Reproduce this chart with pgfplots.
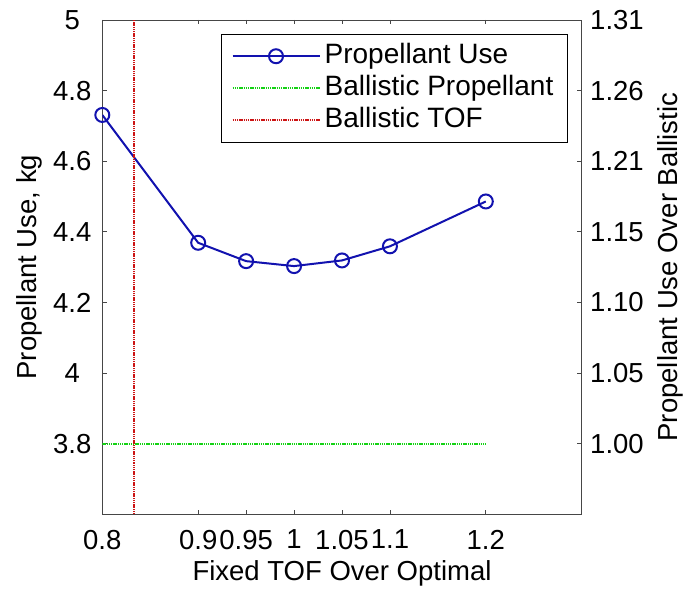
\documentclass[border=0pt]{standalone}
\usepackage{fontspec}
\setmainfont{Liberation Sans}
\usepackage{pgfplots}
\pgfplotsset{compat=1.18}

\definecolor{useblue}{RGB}{18,18,175}
\definecolor{balgreen}{RGB}{20,210,20}
\definecolor{balred}{RGB}{205,20,20}
\definecolor{axisgray}{RGB}{70,70,70}

\pgfplotstableread{
tof   prop
0.80  4.731
0.90  4.369
0.95  4.317
1.00  4.303
1.05  4.319
1.10  4.359
1.20  4.486
}\propuse

\pgfplotsset{
  common/.style={
    scale only axis,
    width=479.4pt, height=494.3pt,
    xmin=0.8, xmax=1.3, ymin=3.6, ymax=5,
    tick align=inside,
    major tick length=4.5pt,
    axis line style={axisgray, line width=0.8pt},
    every tick/.style={axisgray, line width=0.8pt},
    /pgf/number format/assume math mode=true,
    ytick={3.8,4,4.2,4.4,4.6,4.8,5},
  },
}

\begin{document}
\begin{tikzpicture}[font=\fontsize{27.5}{33}\selectfont]
\begin{axis}[
  common,
  xtick={0.8,0.9,0.95,1,1.05,1.1,1.2},
  xticklabels={0.8,0.9,0.95,1,1.05,1.1,1.2},
  xtick pos=both,
  ytick pos=left,
  yticklabels={3.8,4,4.2,4.4,4.6,4.8,5},
  xticklabel style={yshift=-12pt},
  yticklabel style={anchor=center, xshift=-30pt},
  xlabel={Fixed TOF Over Optimal},
  ylabel={Propellant Use, kg},
  xlabel style={at={(axis description cs:0.5,0)}, anchor=center, yshift=-59pt},
  ylabel style={at={(axis description cs:-0.1520,0.5)}, anchor=center},
  legend style={
    at={(rel axis cs:0.971,0.972)}, anchor=north east,
    draw=black, line width=0.8pt, fill=white,
    font=\fontsize{28}{33}\selectfont,
    inner xsep=10pt, inner ysep=6pt,
    row sep=0pt,
    nodes={inner xsep=4pt, inner ysep=3pt, text height=20pt, text depth=6pt},
  },
  legend cell align=left,
  legend image code/.code={
    \draw[mark repeat=2, mark phase=2]
      plot coordinates {(0pt,0pt) (43.5pt,0pt) (87pt,0pt)};
  },
]
\addplot[useblue, line width=2pt, mark=o,
  mark size=7pt, mark options={line width=2pt}]
  table[x=tof, y=prop] {\propuse};
\addlegendentry{Propellant Use}

\addplot[balgreen, line width=2.2pt, dash pattern=on 1.4pt off 0.8pt]
  coordinates {(0.8,3.8) (1.2,3.8)};
\addlegendentry{Ballistic Propellant}

\addplot[balred, line width=2.2pt, dash pattern=on 1.4pt off 0.8pt]
  coordinates {(0.8334,3.6) (0.8334,5)};
\addlegendentry{Ballistic TOF}
\end{axis}

\begin{axis}[
  common,
  axis x line=none,
  axis y line*=right,
  ytick pos=right,
  yticklabels={1.00,1.05,1.10,1.15,1.21,1.26,1.31},
  yticklabel style={xshift=5pt},
  ylabel={Propellant Use Over Ballistic},
  ylabel style={at={(axis description cs:1.1860,0.5)}, anchor=center},
]
\end{axis}

\pgfresetboundingbox
\path ([shift={(-102.3pt,-75.7pt)}]current axis.south west)
  rectangle ([shift={(104.3pt,20pt)}]current axis.north east);
\end{tikzpicture}
\end{document}
